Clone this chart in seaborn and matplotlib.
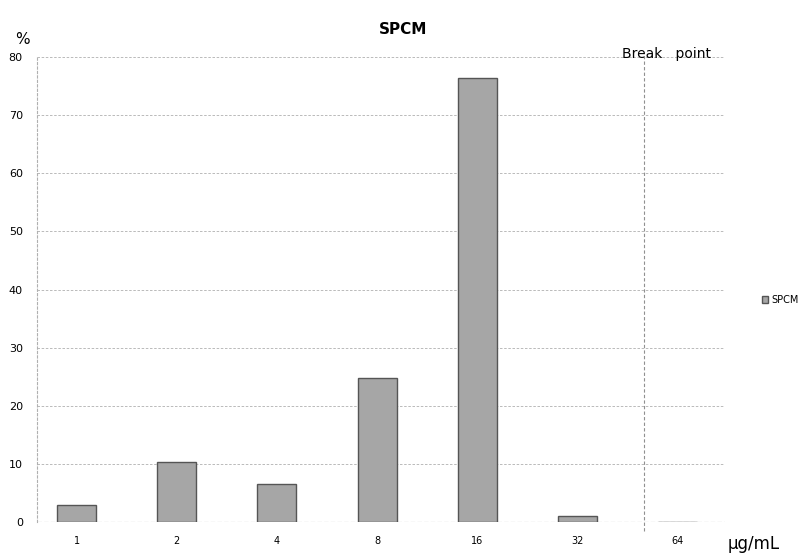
import matplotlib
matplotlib.use("Agg")
import matplotlib.pyplot as plt
import seaborn as sns
import pandas as pd

categories = ["1", "2", "4", "8", "16", "32", "64"]
values = [3.0, 10.3, 6.5, 24.7, 76.5, 1.0, 0.0]
series_name = "SPCM"
yticks = [0, 10, 20, 30, 40, 50, 60, 70, 80]
break_point_pos = 5.67

sns.set_theme(style="white")
plt.rcParams['font.family'] = ['DejaVu Sans']
plt.rcParams['text.color'] = 'black'
plt.rcParams['xtick.color'] = 'black'
plt.rcParams['ytick.color'] = 'black'

df = pd.DataFrame({"conc": categories, "pct": values})

fig = plt.figure(figsize=(7.98, 5.55), dpi=100)
ax = fig.add_axes([0.046, 0.0595, 0.863, 0.8375])

sns.barplot(data=df, x="conc", y="pct", ax=ax, color="#a6a6a6",
            edgecolor="#555555", linewidth=1.0, width=0.39, saturation=1,
            label=series_name)

ax.set_xlim(-0.4, 6.48)
ax.set_ylim(0, 80)
ax.set_yticks(yticks)
ax.set_yticklabels([str(t) for t in yticks], fontsize=8)
ax.tick_params(axis="x", labelsize=7, length=0, pad=10)
ax.tick_params(axis="y", length=0, pad=10)
ax.set_xlabel("")
ax.set_ylabel("")

for y in yticks[1:]:
    ax.axhline(y, color="#b0b0b0", lw=0.6, ls=(0, (3, 2)), zorder=0)
ax.axhline(0, color="#909090", lw=0.8, ls=(0, (4, 2)), zorder=0)

for s in ["top", "right", "bottom"]:
    ax.spines[s].set_visible(False)
ax.spines["left"].set_color("#b0b0b0")
ax.spines["left"].set_linestyle((0, (2, 2)))
ax.spines["left"].set_linewidth(0.8)

ax.axvline(break_point_pos, ymin=-0.02, ymax=1.0, color="#909090", lw=0.8,
           ls=(0, (3, 2)), clip_on=False, zorder=1)

fig.text(0.505, 0.947, "SPCM", ha="center", va="center", fontsize=11,
         fontweight="bold")
fig.text(0.028, 0.928, "%", ha="center", va="center", fontsize=11)
fig.text(0.835, 0.902, "Break   point", ha="center", va="center", fontsize=10)
fig.text(0.945, 0.02, "μg/mL", ha="center", va="center", fontsize=12)

handles, labels = ax.get_legend_handles_labels()
leg = ax.legend(handles[:1], labels[:1], loc="center left",
                bbox_to_anchor=(1.04, 0.477), frameon=False, fontsize=7,
                handlelength=0.7, handleheight=0.7, handletextpad=0.3)

fig.savefig("out.png", dpi=100)
